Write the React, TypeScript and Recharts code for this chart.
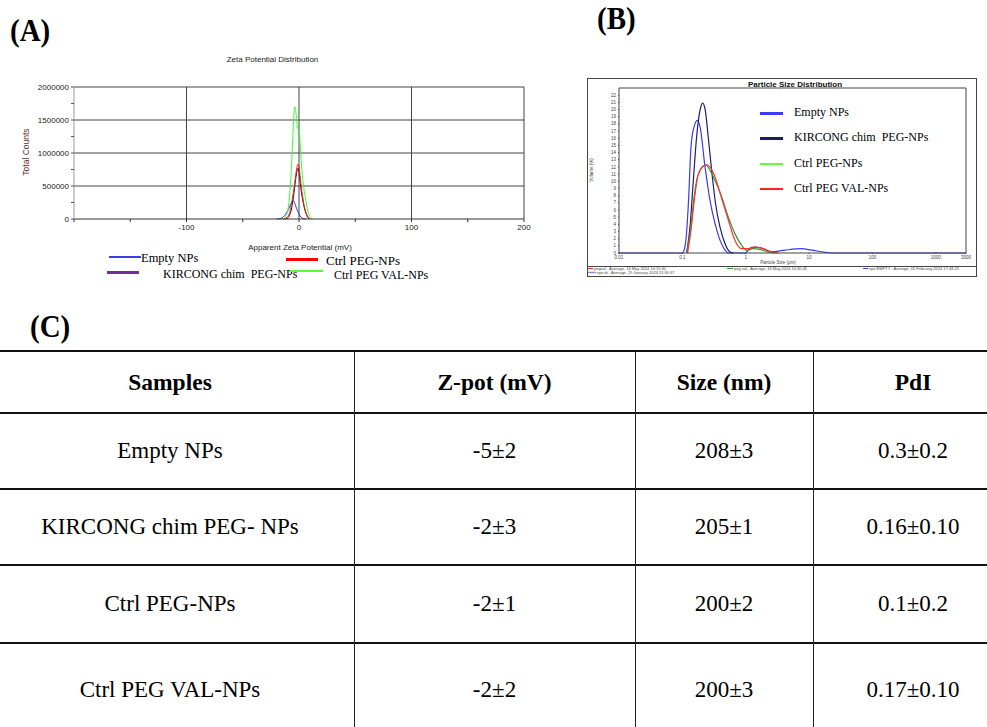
import React from "react";
import { LineChart, Line, XAxis, YAxis, ReferenceLine } from "recharts";

// ---------- (A) Zeta potential distribution ----------
const zetaTicks = [-200, -150, -100, -50, 0, 50, 100, 150, 200];
const zetaCountTicks = [0, 250000, 500000, 750000, 1000000, 1250000, 1500000, 1750000, 2000000];
const zetaGridX = [-100, 0, 100, 200];
const zetaGridY = [500000, 1000000, 1500000, 2000000];

const emptyZetaMv = [-20, -16, -12, -9, -7, -5, -3, -1, 1, 3, 6];
const emptyZetaCounts = [0, 10000, 70000, 160000, 235000, 280000, 200000, 110000, 45000, 12000, 0];

const kirZetaMv = [-12, -10, -7, -5, -3, -1.5, -0.8, 0.5, 2, 3.5, 5, 7, 9];
const kirZetaCounts = [0, 15000, 130000, 330000, 600000, 750000, 770000, 650000, 420000, 270000, 150000, 50000, 0];

const pegZetaMv = [-14, -11, -8, -6, -4, -2.5, -1, 0, 1.5, 3, 4.5, 6, 8, 10];
const pegZetaCounts = [0, 20000, 120000, 300000, 520000, 720000, 830000, 790000, 560000, 370000, 210000, 110000, 30000, 0];

const valZetaMv = [-15, -12, -9, -7, -5.5, -4.5, -3.6, -2.5, -1.2, 0, 1, 2.5, 4, 5.5, 7, 8.5, 10, 12];
const valZetaCounts = [0, 30000, 250000, 700000, 1250000, 1580000, 1700000, 1580000, 1370000, 1400000, 1150000, 750000, 500000, 340000, 190000, 80000, 25000, 0];

// ---------- (B) Particle size distribution ----------
const sizeTicks = [0.01, 0.1, 1, 10, 100, 1000, 3000];
const volumeTicks = [0, 1, 2, 3, 4, 5, 6, 7, 8, 9, 10, 11, 12, 13, 14, 15, 16, 17, 18, 19, 20, 21, 22];

const emptySizeUm = [0.01, 0.1, 0.1075, 0.117, 0.1245, 0.137, 0.149, 0.1726, 0.19, 0.228, 0.2735, 0.328, 0.393, 0.472, 0.532, 0.976, 1.245, 1.68, 2.57, 4.18, 7.66, 11.0, 17.9, 22.8, 3000];
const emptyVolume = [0, 0, 0.5, 3, 6.9, 14.8, 17.2, 18.5, 17.6, 12, 7.3, 4.1, 1.8, 0.4, 0, 0, 0.8, 0.75, 0.15, 0.4, 0.6, 0.4, 0.1, 0, 0];

const kirSizeUm = [0.117, 0.132, 0.149, 0.168, 0.19, 0.209, 0.228, 0.256, 0.29, 0.334, 0.393, 0.472, 0.566, 0.64];
const kirVolume = [0, 3.6, 10.1, 16.2, 19.9, 20.9, 20.1, 16.2, 11.5, 6.9, 3.6, 1.3, 0.14, 0];

const pegSizeUm = [0.117, 0.132, 0.149, 0.168, 0.19, 0.222, 0.242, 0.2735, 0.328, 0.418, 0.532, 0.675, 0.864, 1.04, 1.32, 1.68, 2.28, 2.9];
const pegVolume = [0, 2.7, 6.9, 10.1, 11.5, 12.2, 12.2, 11.5, 10.1, 7.8, 5.0, 2.7, 1.07, 0.37, 0.6, 0.5, 0.14, 0];

const valSizeUm = [0.121, 0.137, 0.154, 0.174, 0.2, 0.242, 0.283, 0.334, 0.418, 0.532, 0.66, 0.864, 1.1, 1.4, 1.9, 2.57, 3.3];
const valVolume = [0, 3.2, 7.3, 10.6, 11.8, 12.3, 11.8, 10.4, 7.6, 4.6, 2.0, 0.6, 0.6, 0.84, 0.6, 0.14, 0];

const seriesNames = ["Empty NPs", "KIRCONG chim  PEG-NPs", "Ctrl PEG-NPs", "Ctrl PEG VAL-NPs"];
const footerNames = [
  "pegval - Average, 16 May 2024 10:15:30",
  "peg val - Average, 16 May 2024 10:30:45",
  "nps EMPTY - Average, 05 February 2024 17:43:25",
  "nps di - Average, 29 January 2024 15:30:37",
];

// ---------- (C) table ----------
const tableHeaders = ["Samples", "Z-pot (mV)", "Size (nm)", "PdI"];
const sampleNames = ["Empty NPs", "KIRCONG chim PEG- NPs", "Ctrl PEG-NPs", "Ctrl PEG VAL-NPs"];
const zPot = ["-5±2", "-2±3", "-2±1", "-2±2"];
const sizeNm = ["208±3", "205±1", "200±2", "200±3"];
const pdi = ["0.3±0.2", "0.16±0.10", "0.1±0.2", "0.17±0.10"];

const pts = (xs: number[], ys: number[]) => xs.map((x, i) => ({ x, y: ys[i] }));

const sans = '"Liberation Sans", Arial, sans-serif';
const serif = '"Liberation Serif", "Times New Roman", serif';

const zetaSeries = [
  { name: "empty", color: "#3030ff", data: pts(emptyZetaMv, emptyZetaCounts) },
  { name: "kir", color: "#111111", data: pts(kirZetaMv, kirZetaCounts) },
  { name: "peg", color: "#ff1a1a", data: pts(pegZetaMv, pegZetaCounts) },
  { name: "val", color: "#33ff33", data: pts(valZetaMv, valZetaCounts) },
];

const sizeSeries = [
  { name: "empty", color: "#3a3af0", data: pts(emptySizeUm, emptyVolume) },
  { name: "kir", color: "#1c1c72", data: pts(kirSizeUm, kirVolume) },
  { name: "peg", color: "#2f9a2f", data: pts(pegSizeUm, pegVolume) },
  { name: "val", color: "#ff3030", data: pts(valSizeUm, valVolume) },
];

function ZetaChart() {
  return (
    <div style={{ position: "absolute", left: 0, top: 0 }}>
      <LineChart width={540} height={245} margin={{ top: 87, right: 16, bottom: 0, left: 0 }}>
        {zetaGridX.map((v) => (
          <ReferenceLine key={"gx" + v} x={v} stroke="#444" strokeWidth={1} />
        ))}
        {zetaGridY.map((v) => (
          <ReferenceLine key={"gy" + v} y={v} stroke="#444" strokeWidth={1} />
        ))}
        <XAxis
          type="number"
          dataKey="x"
          domain={[-200, 200]}
          ticks={zetaTicks}
          interval={0}
          height={26}
          allowDuplicatedCategory={false}
          tickFormatter={(v: number) => (v % 100 === 0 && v !== -200 ? String(v) : "")}
          axisLine={{ stroke: "#333" }}
          tickLine={{ stroke: "#333" }}
          tickSize={3}
          tick={{ fontSize: 8, fill: "#222", fontFamily: sans }}
        />
        <YAxis
          type="number"
          domain={[0, 2000000]}
          ticks={zetaCountTicks}
          interval={0}
          width={74}
          tickFormatter={(v: number) => (v % 500000 === 0 ? String(v) : "")}
          axisLine={{ stroke: "#999" }}
          tickLine={{ stroke: "#555" }}
          tickSize={3}
          tick={{ fontSize: 8, fill: "#222", fontFamily: sans }}
        />
        {zetaSeries.map((s) => (
          <Line
            key={s.name}
            data={s.data}
            dataKey="y"
            type="monotone"
            stroke={s.color}
            strokeWidth={1}
            dot={false}
            isAnimationActive={false}
          />
        ))}
      </LineChart>
    </div>
  );
}

function SizeChart() {
  return (
    <div style={{ position: "absolute", left: 587, top: 78 }}>
      <LineChart width={390} height={199} margin={{ top: 10, right: 11, bottom: 14, left: 0 }}>
        <ReferenceLine y={23} stroke="#444" strokeWidth={1} ifOverflow="visible" />
        <ReferenceLine x={3000} stroke="#444" strokeWidth={1} ifOverflow="visible" />
        <XAxis
          type="number"
          dataKey="x"
          scale="log"
          domain={[0.01, 3000]}
          ticks={sizeTicks}
          interval={0}
          allowDataOverflow
          height={10}
          axisLine={{ stroke: "#444" }}
          tickLine={{ stroke: "#444" }}
          tickSize={1}
          tick={{ fontSize: 4.5, fill: "#444", fontFamily: sans }}
        />
        <YAxis
          type="number"
          domain={[0, 23]}
          ticks={volumeTicks}
          interval={0}
          width={32}
          axisLine={{ stroke: "#444" }}
          tickLine={{ stroke: "#444" }}
          tickSize={1}
          tick={{ fontSize: 4.5, fill: "#444", fontFamily: sans }}
        />
        {sizeSeries.map((s) => (
          <Line
            key={s.name}
            data={s.data}
            dataKey="y"
            type="monotone"
            stroke={s.color}
            strokeWidth={1.2}
            dot={false}
            isAnimationActive={false}
          />
        ))}
      </LineChart>
    </div>
  );
}

const abs = (left: number, top: number, extra: React.CSSProperties = {}): React.CSSProperties => ({
  position: "absolute",
  left,
  top,
  whiteSpace: "pre",
  ...extra,
});

const letter: React.CSSProperties = {
  fontSize: 29,
  fontWeight: 700,
  lineHeight: "30px",
  transform: "scaleY(1.12)",
  transformOrigin: "left top",
};

export default function App() {
  const colLeft = [-14, 354, 635, 813];
  const colRight = [354, 635, 813, 1013];
  const rowTop = [351, 413, 489, 565, 643];
  const rowBottom = [413, 489, 565, 643, 737];
  const rows = sampleNames.map((n, i) => [n, zPot[i], sizeNm[i], pdi[i]]);
  const aLegendColors = ["#3c3ce0", "#7030a0", "#ff0000", "#55ff33"];
  const bLegendColors = ["#3c3cf0", "#1c1c60", "#66ff33", "#ff2020"];

  return (
    <div
      style={{
        position: "fixed",
        left: 0,
        top: 0,
        width: 987,
        height: 727,
        background: "#fff",
        overflow: "hidden",
        fontFamily: serif,
        color: "#000",
      }}
    >
      {/* panel letters */}
      <div style={abs(10, 13, letter)}>(A)</div>
      <div style={abs(597, 1, letter)}>(B)</div>
      <div style={abs(30, 309, letter)}>(C)</div>

      {/* (A) */}
      <div style={abs(0, 55, { width: 545, textAlign: "center", fontFamily: sans, fontSize: 8, color: "#222" })}>
        Zeta Potential Distribution
      </div>
      <ZetaChart />
      <div
        style={abs(26, 152, {
          fontFamily: sans,
          fontSize: 8.5,
          color: "#6b2a2a",
          transform: "translate(-50%, -50%) rotate(-90deg)",
        })}
      >
        Total Counts
      </div>
      <div style={abs(200, 243, { width: 200, textAlign: "center", fontFamily: sans, fontSize: 8, color: "#222" })}>
        Apparent Zeta Potential (mV)
      </div>
      {/* (A) legend */}
      <div style={abs(109, 256, { width: 32, height: 2, background: aLegendColors[0] })} />
      <div style={abs(141, 251, { fontSize: 12.5 })}>{seriesNames[0]}</div>
      <div style={abs(107, 271, { width: 32, height: 3, background: aLegendColors[1] })} />
      <div style={abs(163, 267, { fontSize: 12 })}>{seriesNames[1]}</div>
      <div style={abs(286, 258, { width: 32, height: 3, background: aLegendColors[2] })} />
      <div style={abs(326, 253, { fontSize: 13 })}>{seriesNames[2]}</div>
      <div style={abs(290, 270, { width: 33, height: 1.5, background: aLegendColors[3] })} />
      <div style={abs(334, 268, { fontSize: 12 })}>{seriesNames[3]}</div>

      {/* (B) frame + texts */}
      <svg style={{ position: "absolute", left: 587, top: 78 }} width={391} height={200}>
        <rect x={0.5} y={0.5} width={389} height={198} fill="none" stroke="#444" />
        <line x1={0} x2={390} y1={188.5} y2={188.5} stroke="#444" />
        <text x={208} y={9} textAnchor="middle" fontFamily={sans} fontWeight={700} fontSize={8} fill="#111">
          Particle Size Distribution
        </text>
        <text
          x={6}
          y={92}
          textAnchor="middle"
          fontFamily={sans}
          fontSize={4.5}
          fill="#444"
          transform="rotate(-90 6 92)"
        >
          Volume (%)
        </text>
        <text x={191} y={186} textAnchor="middle" fontFamily={sans} fontSize={4.5} fill="#444">
          Particle Size (μm)
        </text>
        <line x1={1} x2={6} y1={190.5} y2={190.5} stroke="#ff2020" />
        <text x={7} y={192} fontFamily={sans} fontSize={4} fill="#444">{footerNames[0]}</text>
        <line x1={140} x2={146} y1={190.5} y2={190.5} stroke="#2f9a2f" />
        <text x={147} y={192} fontFamily={sans} fontSize={4} fill="#444">{footerNames[1]}</text>
        <line x1={276} x2={281} y1={190.5} y2={190.5} stroke="#3a3af0" />
        <text x={282} y={192} fontFamily={sans} fontSize={4} fill="#444">{footerNames[2]}</text>
        <line x1={1} x2={9} y1={194.5} y2={194.5} stroke="#8c8cf0" strokeWidth={1.5} />
        <text x={10} y={196} fontFamily={sans} fontSize={4} fill="#444">{footerNames[3]}</text>
      </svg>
      <SizeChart />
      {seriesNames.map((n, i) => (
        <React.Fragment key={n}>
          <div style={abs(760, 112 + i * 25.3, { width: 23, height: 2.5, background: bLegendColors[i] })} />
          <div style={abs(794, 105 + i * 25.3, { fontSize: 12 })}>{n}</div>
        </React.Fragment>
      ))}

      {/* (C) table */}
      {rowTop.map((t, i) => (
        <div key={"h" + i} style={abs(0, t - 1, { width: 987, height: 2, background: "#111" })} />
      ))}
      {colLeft.slice(1).map((x) => (
        <div key={"v" + x} style={abs(x, 351, { width: 1, height: 376, background: "#222" })} />
      ))}
      {[tableHeaders, ...rows].map((r, ri) =>
        r.map((txt, ci) => (
          <div
            key={ri + "-" + ci}
            style={abs(colLeft[ci], rowTop[ri], {
              width: colRight[ci] - colLeft[ci],
              height: rowBottom[ri] - rowTop[ri],
              display: "flex",
              alignItems: "center",
              justifyContent: "center",
              fontSize: ri === 0 ? 23.5 : 23,
              fontWeight: ri === 0 ? 700 : 400,
            })}
          >
            {txt}
          </div>
        ))
      )}
    </div>
  );
}
